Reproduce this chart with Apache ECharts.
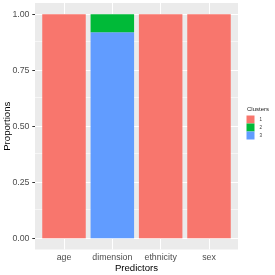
<!DOCTYPE html>
<html><head><meta charset="utf-8">
<script src="https://cdn.jsdelivr.net/npm/echarts@6/dist/echarts.min.js"></script>
<style>html,body{margin:0;padding:0;background:#fff}#c{width:275px;height:275px}</style>
</head><body><div id="c"></div><script>
// ---- data ----
const categories = ['age', 'dimension', 'ethnicity', 'sex'];
const clusterNames = ['1', '2', '3'];
const cluster1 = [1, 0, 1, 1];
const cluster2 = [0, 0.08, 0, 0];
const cluster3 = [0, 0.92, 0, 0];
const yTicks = [0, 0.25, 0.5, 0.75, 1];
const yMinor = [0.125, 0.375, 0.625, 0.875];
const xTitle = 'Predictors';
const yTitle = 'Proportions';
const legendTitle = 'Clusters';
// ---- styles ----
const colors = { '1': '#F8766D', '2': '#00BA38', '3': '#619CFF' };
const L = 35, R = 238, T = 3, B = 249.5, W = 275, H = 275;
const band = (R - L) / 4.2;
const gridPos = categories.map((c, i) => i + 1);
const font = 'Liberation Sans, Arial, sans-serif';
const labelSize = 8.8;

const chart = echarts.init(document.getElementById('c'), null, { renderer: 'canvas' });
function barSeries(name, vals) {
  return {
    name: name, type: 'bar', stack: 'all', z: 2,
    xAxisIndex: 1, yAxisIndex: 1,
    barWidth: '90%',
    itemStyle: { color: colors[name] },
    data: vals
  };
}
const gridLines = []
  .concat(yTicks.map(v => ({ yAxis: v, lineStyle: { width: 1.1 } })))
  .concat(yMinor.map(v => ({ yAxis: v, lineStyle: { width: 0.55 } })))
  .concat(gridPos.map(v => ({ xAxis: v, lineStyle: { width: 1.1 } })));

chart.setOption({
  animation: false,
  textStyle: { fontFamily: font },
  grid: [
    { left: L, right: W - R, top: T, bottom: H - B, show: true, backgroundColor: '#EBEBEB',
      borderWidth: 0, containLabel: false, outerBoundsMode: 'none' },
    { left: L + band * 0.1, right: W - R + band * 0.1, top: T, bottom: H - B,
      show: false, containLabel: false, outerBoundsMode: 'none' }
  ],
  xAxis: [
    { gridIndex: 0, type: 'value', min: 0.4, max: 4.6, show: false, splitLine: { show: false } },
    {
      gridIndex: 1, type: 'category', data: categories,
      axisLine: { show: false },
      axisTick: { show: true, length: 2.7, alignWithLabel: true, lineStyle: { color: '#333', width: 1 } },
      axisLabel: { fontSize: labelSize, color: '#4D4D4D', margin: 3.2, interval: 0 },
      splitLine: { show: false }
    }
  ],
  yAxis: [
    {
      gridIndex: 0, type: 'value', min: -0.05, max: 1.05,
      axisLine: { show: false },
      axisTick: { show: true, length: 2.7, customValues: yTicks, lineStyle: { color: '#333', width: 1 } },
      axisLabel: { customValues: yTicks, fontSize: labelSize, color: '#4D4D4D', margin: 5.5,
        formatter: v => v.toFixed(2) },
      splitLine: { show: false }
    },
    { gridIndex: 1, type: 'value', min: -0.05, max: 1.05, show: false, splitLine: { show: false } }
  ],
  legend: {
    data: clusterNames, orient: 'vertical', left: 246.5, top: 115.5,
    itemWidth: 8, itemHeight: 8, itemGap: 0, icon: 'rect', padding: 0,
    textStyle: { fontSize: 4.5, color: '#333', fontFamily: font }
  },
  graphic: [
    { type: 'text', left: 247, top: 106.5,
      style: { text: legendTitle, fontSize: 6, fill: '#222', fontFamily: font } },
    { type: 'text', x: (L + R) / 2, y: 268,
      style: { text: xTitle, fontSize: 9.6, fill: '#000', fontFamily: font, align: 'center', verticalAlign: 'middle' } },
    { type: 'text', x: 7.5, y: (T + B) / 2, rotation: Math.PI / 2,
      style: { text: yTitle, fontSize: 9.6, fill: '#000', fontFamily: font, align: 'center', verticalAlign: 'middle' } }
  ],
  series: [
    {
      name: 'grid', type: 'line', data: [], z: 1, silent: true,
      xAxisIndex: 0, yAxisIndex: 0,
      markLine: { silent: true, z: 1, symbol: ['none', 'none'], label: { show: false },
        lineStyle: { color: '#FFFFFF', type: 'solid' }, emphasis: { disabled: true }, data: gridLines }
    },
    barSeries('3', cluster3),
    barSeries('2', cluster2),
    barSeries('1', cluster1)
  ]
});
</script></body></html>
